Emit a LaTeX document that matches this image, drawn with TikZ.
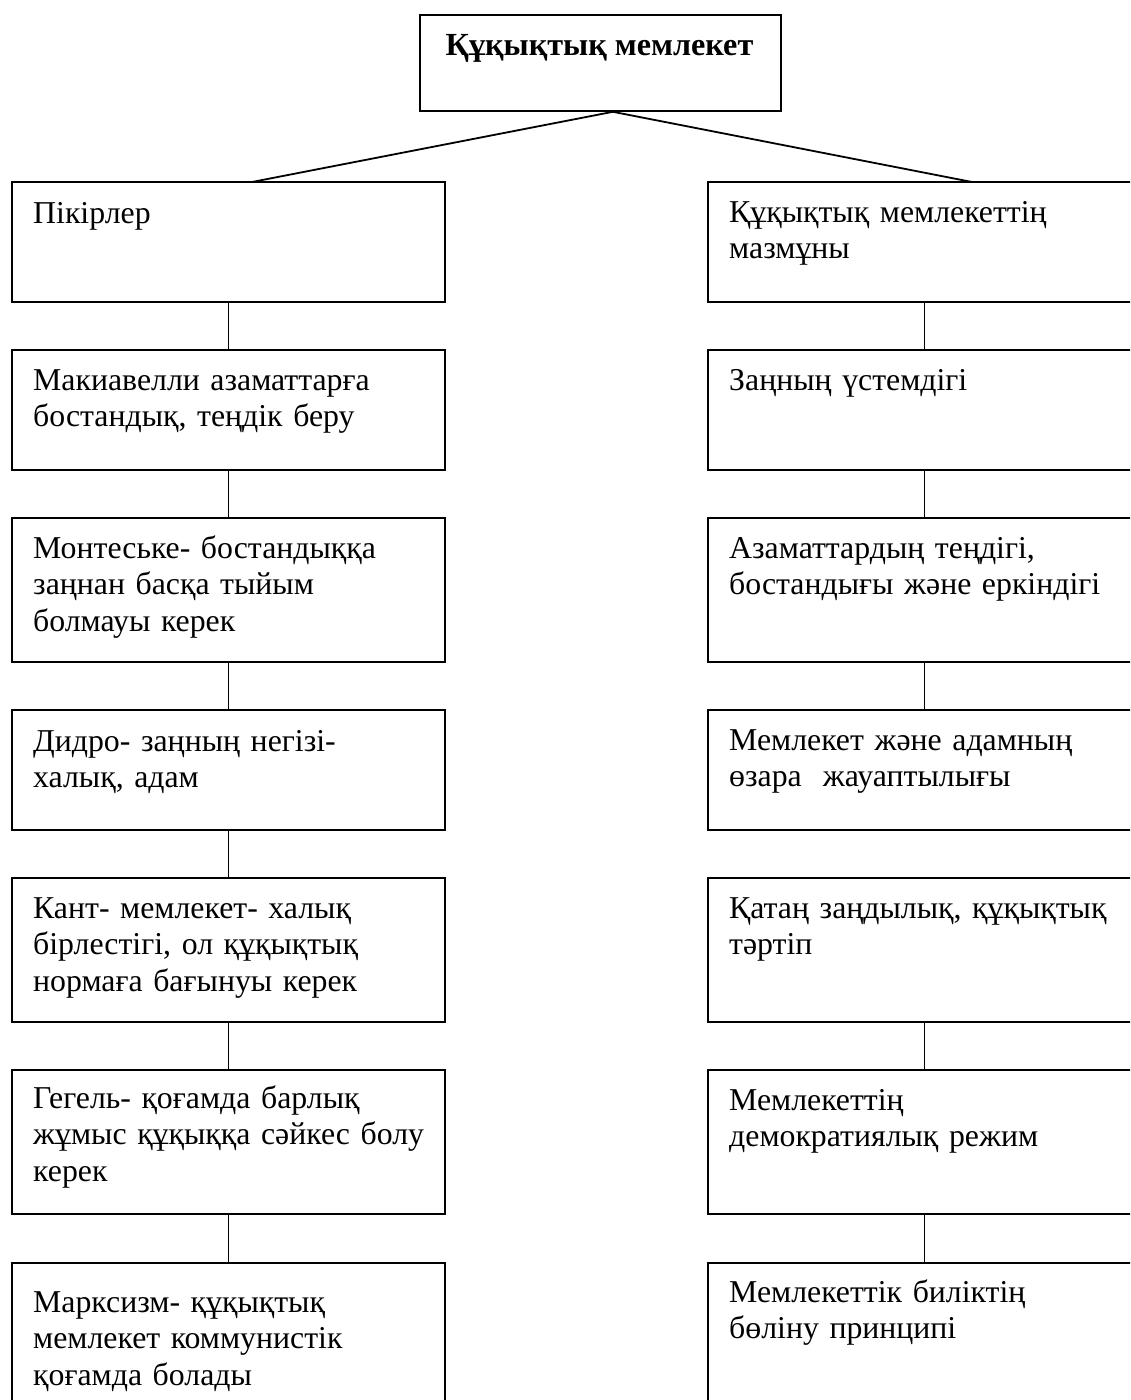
\documentclass[tikz,border=0pt]{standalone}
\usepackage{fontspec}
\setmainfont{Liberation Serif}
\begin{document}
\begin{tikzpicture}[x=1pt,y=-1pt,
  box/.style={draw,line width=1.8pt,inner sep=0pt,outer sep=0pt,anchor=north west,minimum width=433pt},
  txt/.style={anchor=base west,inner sep=0pt,text width=425pt,align=left,font=\fontsize{31.8}{36.5}\selectfont},
  conn/.style={line width=1.8pt}]
\useasboundingbox (0,0) rectangle (1130,1400);
\clip (0,0) rectangle (1130,1400);
% title
\node[draw,line width=1.8pt,inner sep=0pt,minimum width=361pt,minimum height=96pt,anchor=north west] (top) at (419,14) {};
\node[anchor=base,inner sep=0pt,font=\fontsize{32.2}{36.5}\selectfont\bfseries] (toptxt) at (599.5,55) {Құқықтық мемлекет};
% left column
\node[box,minimum height=120pt] (L1) at (12,182) {};
\node[box,minimum height=120pt] (L2) at (12,350) {};
\node[box,minimum height=144pt] (L3) at (12,518) {};
\node[box,minimum height=120pt] (L4) at (12,710) {};
\node[box,minimum height=144pt] (L5) at (12,878) {};
\node[box,minimum height=144pt] (L6) at (12,1070) {};
\node[box,minimum height=160pt] (L7) at (12,1263) {};
\node[txt] (L1t) at (33,223) {Пікірлер};
\node[txt] (L2t) at (33,390) {Макиавелли азаматтарға\\бостандық, теңдік беру};
\node[txt] (L3t) at (33,558) {Монтеське- бостандыққа\\заңнан басқа тыйым\\болмауы керек};
\node[txt] (L4t) at (33,751) {Дидро- заңның негізі-\\халық, адам};
\node[txt] (L5t) at (33,918) {Кант- мемлекет- халық\\бірлестігі, ол құқықтық\\нормаға бағынуы керек};
\node[txt] (L6t) at (33,1108) {Гегель- қоғамда барлық\\жұмыс құқыққа сәйкес болу\\керек};
\node[txt] (L7t) at (33,1312) {Марксизм- құқықтық\\мемлекет коммунистік\\қоғамда болады};
% right column
\node[box,minimum height=120pt] (R1) at (708,182) {};
\node[box,minimum height=120pt] (R2) at (708,350) {};
\node[box,minimum height=144pt] (R3) at (708,518) {};
\node[box,minimum height=120pt] (R4) at (708,710) {};
\node[box,minimum height=144pt] (R5) at (708,878) {};
\node[box,minimum height=144pt] (R6) at (708,1070) {};
\node[box,minimum height=160pt] (R7) at (708,1263) {};
\node[txt] (R1t) at (729,222) {Құқықтық мемлекеттің\\мазмұны};
\node[txt] (R2t) at (729,390) {Заңның үстемдігі};
\node[txt] (R3t) at (729,558) {Азаматтардың теңдігі,\\бостандығы және еркіндігі};
\node[txt] (R4t) at (729,750) {Мемлекет және адамның\\өзара\ \ жауаптылығы};
\node[txt] (R5t) at (729,918) {Қатаң заңдылық, құқықтық\\тәртіп};
\node[txt] (R6t) at (729,1110) {Мемлекеттің\\демократиялық режим};
\node[txt] (R7t) at (729,1302) {Мемлекеттік биліктің\\бөліну принципі};
% connectors
\draw[conn] ([xshift=12.5pt]top.south) -- ([xshift=23.5pt]L1.north);
\draw[conn] ([xshift=12.5pt]top.south) -- ([xshift=47.5pt]R1.north);
\draw[conn] (L1.south) -- (L2.north);
\draw[conn] (L2.south) -- (L3.north);
\draw[conn] (L3.south) -- (L4.north);
\draw[conn] (L4.south) -- (L5.north);
\draw[conn] (L5.south) -- (L6.north);
\draw[conn] (L6.south) -- (L7.north);
\draw[conn] (R1.south) -- (R2.north);
\draw[conn] (R2.south) -- (R3.north);
\draw[conn] (R3.south) -- (R4.north);
\draw[conn] (R5.south) -- (R6.north);
\draw[conn] (R6.south) -- (R7.north);
\end{tikzpicture}
\end{document}
